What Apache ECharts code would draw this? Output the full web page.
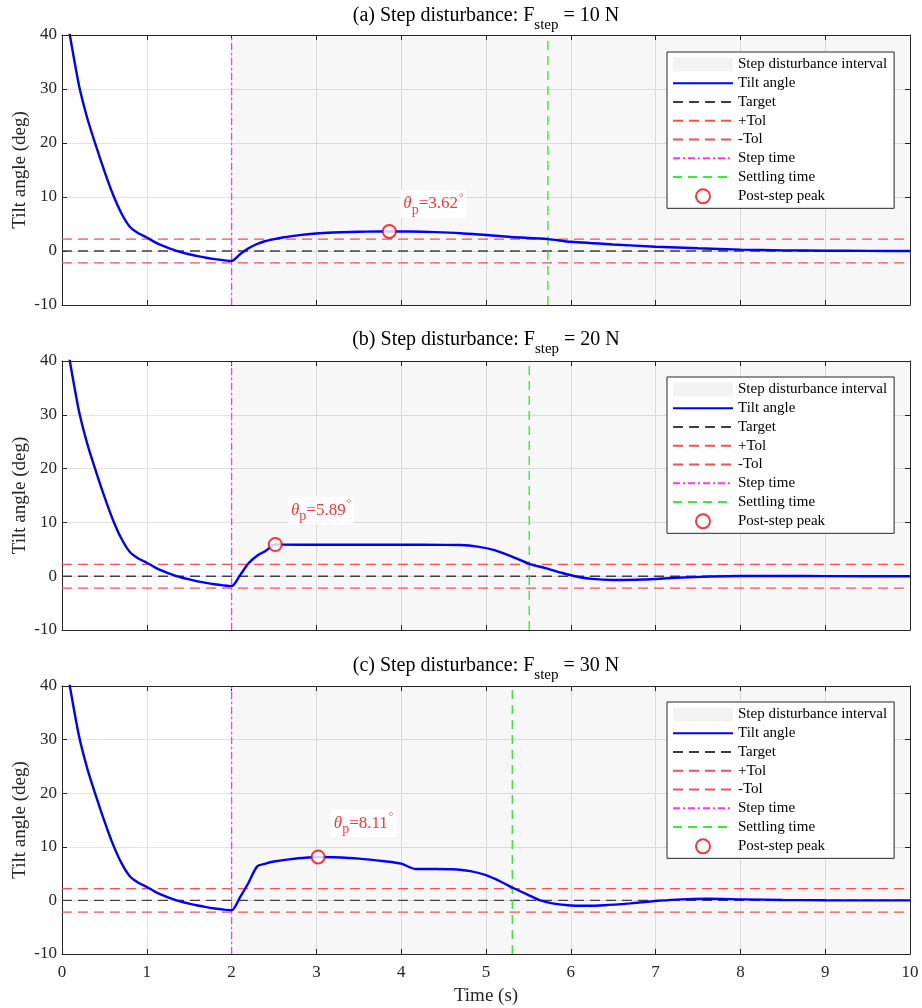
<!DOCTYPE html>
<html>
<head>
<meta charset="utf-8">
<script src="https://cdn.jsdelivr.net/npm/echarts@6/dist/echarts.min.js"></script>
<style>
html, body { margin: 0; padding: 0; background: #fff; }
#chart { width: 922px; height: 1008px; }
</style>
</head>
<body>
<div id="chart"></div>
<script>
// ---- data ----
const stepTime = 2
const tolerance = 2.2
const target = 0
const forces = [10, 20, 30]
const tags = ['(a)', '(b)', '(c)']

// initial transient, identical in all three runs (0-2 s)
const tPre = [0, 0.05, 0.1, 0.2, 0.3, 0.4, 0.5, 0.6, 0.7, 0.8, 0.9, 1.0, 1.1, 1.2, 1.3, 1.4, 1.5, 1.6, 1.7, 1.8, 1.9, 2.0]
const thetaPre = [48, 44, 39.3, 30.7, 24.5, 19.5, 14.8, 10.5, 7.0, 4.5, 3.3, 2.5, 1.6, 0.9, 0.3, -0.2, -0.6, -0.95, -1.25, -1.5, -1.7, -1.85]

// after the step
const tA = [2.1, 2.2, 2.3, 2.4, 2.5, 2.6, 2.8, 3.0, 3.2, 3.4, 3.6, 3.86, 4.1, 4.4, 4.7, 5.0, 5.3, 5.73, 6.0, 6.5, 7.0, 7.5, 8.0, 8.5, 9.0, 9.5, 10]
const thetaA = [-0.6, 0.5, 1.3, 1.85, 2.2, 2.5, 2.95, 3.25, 3.42, 3.52, 3.58, 3.62, 3.6, 3.5, 3.3, 2.95, 2.6, 2.2, 1.7, 1.2, 0.8, 0.5, 0.25, 0.12, 0.05, 0.02, 0]
const tB = [2.1, 2.2, 2.3, 2.4, 2.515, 2.6, 3.0, 3.5, 4.0, 4.5, 4.7, 4.9, 5.1, 5.3, 5.51, 5.7, 5.9, 6.05, 6.25, 6.5, 6.85, 7.25, 7.65, 8.0, 8.5, 9.0, 10]
const thetaB = [0.2, 2.4, 3.8, 4.7, 5.89, 5.87, 5.85, 5.85, 5.85, 5.83, 5.8, 5.5, 4.85, 3.7, 2.3, 1.5, 0.6, 0.0, -0.5, -0.7, -0.62, -0.3, -0.05, 0.05, 0.04, 0.01, 0]
const tC = [2.1, 2.2, 2.3, 2.4, 2.5, 2.7, 2.9, 3.02, 3.2, 3.5, 3.8, 4.0, 4.17, 4.4, 4.6, 4.8, 5.0, 5.2, 5.31, 5.5, 5.64, 5.8, 6.0, 6.15, 6.4, 6.7, 7.05, 7.3, 7.6, 8.0, 8.5, 9.0, 10]
const thetaC = [0.6, 3.3, 6.3, 6.85, 7.25, 7.7, 8.0, 8.11, 8.05, 7.8, 7.3, 6.85, 5.85, 5.85, 5.8, 5.5, 4.7, 3.3, 2.4, 1.0, 0.0, -0.6, -0.95, -1.0, -0.9, -0.55, -0.05, 0.2, 0.3, 0.2, 0.08, 0.02, 0]

const settleTime = [5.73, 5.51, 5.31]
const peakTime = [3.86, 2.515, 3.02]
const peakTheta = [3.62, 5.89, 8.11]
// where the peak text boxes sit (left edge, vertical centre)
const noteTime = [3.99, 2.665, 3.17]
const noteTheta = [8.7, 12.2, 14.4]

const xTicks = { min: 0, max: 10, interval: 1 }
const yTicks = { min: -10, max: 40, interval: 10 }

// ---- chart ----
const font = '"Liberation Serif", "Times New Roman", serif'
const gridTop = [35, 361, 686]
const gridH = [270, 269, 268]
const legendTop = [52, 377, 702]
const titleTop = [-2, 322, 648]
const axisColor = '#262626'

const zip = (xs, ys) => xs.map((x, i) => [x, ys[i]])
const curves = [
  zip(tPre.concat(tA), thetaPre.concat(thetaA)),
  zip(tPre.concat(tB), thetaPre.concat(thetaB)),
  zip(tPre.concat(tC), thetaPre.concat(thetaC)),
]

const grid = [], xAxis = [], yAxis = [], series = [], legend = [], title = []

function axisBase(extra) {
  return Object.assign({
    type: 'value',
    axisLine: { show: true, onZero: false, lineStyle: { color: axisColor, width: 1 } },
    axisTick: { show: true, inside: true, length: 5, lineStyle: { color: axisColor } },
    axisLabel: { show: false },
    splitLine: { show: false },
  }, extra)
}

for (let i = 0; i < 3; i++) {
  grid.push({ left: 62, width: 848, top: gridTop[i], height: gridH[i] })

  const last = i === 2
  xAxis.push(axisBase({
    gridIndex: i, position: 'bottom', ...xTicks,
    axisLabel: { show: last, color: axisColor, fontFamily: font, fontSize: 17, margin: 10 },
    splitLine: { show: true, lineStyle: { color: '#e3e3e3', width: 1 } },
    name: last ? 'Time (s)' : '', nameLocation: 'middle', nameGap: 33,
    nameTextStyle: { fontFamily: font, fontSize: 19, color: axisColor },
  }))
  xAxis.push(axisBase({ gridIndex: i, position: 'top', ...xTicks }))
  yAxis.push(axisBase({
    gridIndex: i, position: 'left', ...yTicks,
    axisLabel: { show: true, color: axisColor, fontFamily: font, fontSize: 17, margin: 5 },
    splitLine: { show: true, lineStyle: { color: '#e3e3e3', width: 1 } },
    name: 'Tilt angle (deg)', nameLocation: 'middle', nameGap: 32, nameMoveOverlap: false,
    nameTextStyle: { fontFamily: font, fontSize: 19, color: axisColor },
  }))
  yAxis.push(axisBase({ gridIndex: i, position: 'right', ...yTicks }))

  const ax = { xAxisIndex: 2 * i, yAxisIndex: 2 * i }
  const hline = (v) => [[xTicks.min, v], [xTicks.max, v]]
  const vline = (t) => [[t, yTicks.min], [t, yTicks.max]]

  series.push(
    {
      name: 'Step disturbance interval', type: 'line', ...ax, data: [],
      itemStyle: { color: '#f3f3f3' },
      markArea: {
        silent: true,
        itemStyle: { color: 'rgba(0,0,0,0.03)' },
        data: [[{ xAxis: stepTime }, { xAxis: xTicks.max }]],
      },
    },
    {
      name: 'Target', type: 'line', ...ax, data: hline(target), symbol: 'none', z: 3,
      lineStyle: { color: '#404040', width: 1.4, type: [10, 6] }, itemStyle: { color: '#404040' },
    },
    {
      name: '+Tol', type: 'line', ...ax, data: hline(tolerance), symbol: 'none', z: 3,
      lineStyle: { color: '#ff4d4d', width: 1.2, type: [10, 6] }, itemStyle: { color: '#ff4d4d' },
    },
    {
      name: '-Tol', type: 'line', ...ax, data: hline(-tolerance), symbol: 'none', z: 3,
      lineStyle: { color: '#ff4d4d', width: 1.2, type: [10, 6] }, itemStyle: { color: '#ff4d4d' },
    },
    {
      name: 'Step time', type: 'line', ...ax, data: vline(stepTime), symbol: 'none', z: 3,
      lineStyle: { color: '#ff33ff', width: 1.3, type: [7, 3, 2, 3] }, itemStyle: { color: '#ff33ff' },
    },
    {
      name: 'Settling time', type: 'line', ...ax, data: vline(settleTime[i]), symbol: 'none', z: 3,
      lineStyle: { color: '#33ee33', width: 1.4, type: [9, 6] }, itemStyle: { color: '#33ee33' },
    },
    {
      name: 'Tilt angle', type: 'line', ...ax, data: curves[i], symbol: 'none', z: 5,
      smooth: 0.25,
      lineStyle: { color: '#0000ff', width: 2.4 }, itemStyle: { color: '#0000ff' },
    },
    {
      name: 'Post-step peak', type: 'scatter', ...ax, data: [[peakTime[i], peakTheta[i]]], z: 6,
      symbol: 'emptyCircle', symbolSize: 13,
      itemStyle: { color: '#ff0000', borderColor: '#ff0000', borderWidth: 2 },
    },
    {
      name: 'note', type: 'scatter', ...ax, data: [[noteTime[i], noteTheta[i]]], z: 7,
      symbolSize: 0, silent: true,
      label: {
        show: true, position: 'right', distance: 0,
        backgroundColor: '#fff', padding: [1, 3, 1, 3],
        formatter: '{th|θ}{sub|p}{eq|=' + peakTheta[i].toFixed(2) + '}{sup|°}',
        rich: {
          th: { fontFamily: font, fontSize: 17, fontStyle: 'italic', color: '#ff0000' },
          sub: { fontFamily: font, fontSize: 14, color: '#ff0000', padding: [12, 0, 0, 0] },
          eq: { fontFamily: font, fontSize: 17, color: '#ff0000' },
          sup: { fontFamily: font, fontSize: 11, color: '#ff0000', padding: [0, 0, 12, 1] },
        },
      },
    },
  )

  const noMarker = (name) => ({ name, itemStyle: { opacity: 0 } })
  legend.push({
    orient: 'vertical', left: 667, top: legendTop[i],
    padding: [5, 7, 4, 5], itemWidth: 60, itemHeight: 14, itemGap: 3.76,
    backgroundColor: '#fff', borderColor: '#262626', borderWidth: 1, borderRadius: 0,
    selectedMode: false,
    textStyle: { fontFamily: font, fontSize: 15, lineHeight: 14, color: '#000' },
    data: [
      { name: 'Step disturbance interval', icon: 'rect', itemStyle: { color: '#f3f3f3' } },
      noMarker('Tilt angle'), noMarker('Target'), noMarker('+Tol'), noMarker('-Tol'),
      noMarker('Step time'), noMarker('Settling time'),
      'Post-step peak',
    ],
  })

  title.push({
    text: tags[i] + ' Step disturbance: F{sub|step} = ' + forces[i] + ' N',
    left: 486, textAlign: 'center', top: titleTop[i], padding: 0,
    textStyle: {
      fontFamily: font, fontSize: 20, fontWeight: 'normal', color: '#000',
      rich: { sub: { fontFamily: font, fontSize: 15, color: '#000', padding: [20, 0, 0, 0] } },
    },
  })
}

const chart = echarts.init(document.getElementById('chart'))
chart.setOption({
  animation: false,
  backgroundColor: '#fff',
  title, grid, xAxis, yAxis, legend, series,
})
</script>
</body>
</html>
